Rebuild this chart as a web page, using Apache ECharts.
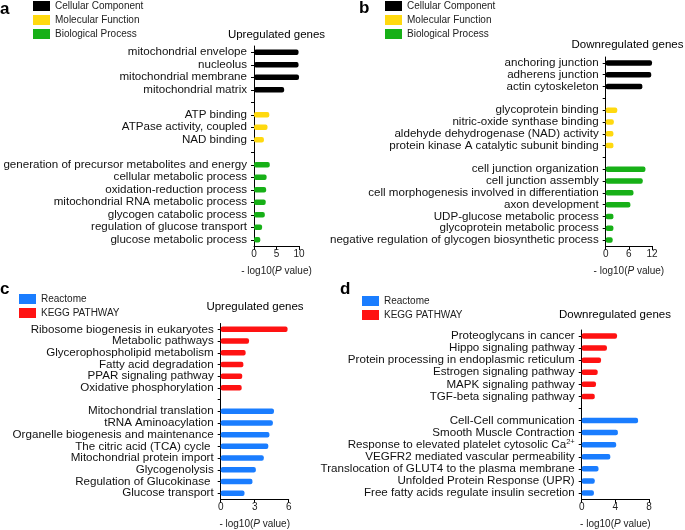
<!DOCTYPE html>
<html><head><meta charset="utf-8">
<script src="https://cdn.jsdelivr.net/npm/echarts@6/dist/echarts.min.js"></script>
<style>html,body{margin:0;padding:0;background:#fff}#c{width:685px;height:530px}</style>
</head><body><div id="c"></div>
<script>
// Panel a (Upregulated GO)
const A_CC = ['mitochondrial envelope','nucleolus','mitochondrial membrane','mitochondrial matrix'];
const A_CC_VAL = [9.9, 9.9, 10.0, 6.7];
const A_MF = ['ATP binding','ATPase activity, coupled','NAD binding'];
const A_MF_VAL = [3.4, 3.0, 2.2];
const A_BP = ['generation of precursor metabolites and energy','cellular metabolic process','oxidation-reduction process','mitochondrial RNA metabolic process','glycogen catabolic process','regulation of glucose transport','glucose metabolic process'];
const A_BP_VAL = [3.5, 2.8, 2.7, 2.6, 2.4, 1.8, 1.4];
const A_TICKS = [0, 5, 10];
// Panel b (Downregulated GO)
const B_CC = ['anchoring junction','adherens junction','actin cytoskeleton'];
const B_CC_VAL = [12.0, 11.8, 9.5];
const B_MF = ['glycoprotein binding','nitric-oxide synthase binding','aldehyde dehydrogenase (NAD) activity','protein kinase A catalytic subunit binding'];
const B_MF_VAL = [3.0, 2.1, 2.0, 2.0];
const B_BP = ['cell junction organization','cell junction assembly','cell morphogenesis involved in differentiation','axon development','UDP-glucose metabolic process','glycoprotein metabolic process','negative regulation of glycogen biosynthetic process'];
const B_BP_VAL = [10.3, 9.6, 7.2, 6.4, 2.0, 2.0, 1.8];
const B_TICKS = [0, 6, 12];
// Panel c (Upregulated pathways)
const C_KEGG = ['Ribosome biogenesis in eukaryotes','Metabolic pathways','Glycerophospholipid metabolism','Fatty acid degradation','PPAR signaling pathway','Oxidative phosphorylation'];
const C_KEGG_VAL = [5.9, 2.5, 2.2, 2.0, 1.9, 1.85];
const C_REACT = ['Mitochondrial translation','tRNA Aminoacylation','Organelle biogenesis and maintenance','The citric acid (TCA) cycle ','Mitochondrial protein import','Glycogenolysis','Regulation of Glucokinase ','Glucose transport'];
const C_REACT_VAL = [4.7, 4.6, 4.3, 4.2, 3.8, 3.1, 2.8, 2.1];
const C_TICKS = [0, 3, 6];
// Panel d (Downregulated pathways)
const D_KEGG = ['Proteoglycans in cancer','Hippo signaling pathway','Protein processing in endoplasmic reticulum','Estrogen signaling pathway','MAPK signaling pathway','TGF-beta signaling pathway'];
const D_KEGG_VAL = [4.2, 3.0, 2.3, 1.9, 1.7, 1.55];
const D_REACT = ['Cell-Cell communication','Smooth Muscle Contraction','Response to elevated platelet cytosolic Ca2+','VEGFR2 mediated vascular permeability','Translocation of GLUT4 to the plasma membrane','Unfolded Protein Response (UPR)','Free fatty acids regulate insulin secretion'];
const D_REACT_VAL = [6.7, 4.3, 4.1, 3.4, 2.0, 1.55, 1.45];
const D_TICKS = [0, 4, 8];

const TITLES = ['Upregulated genes','Downregulated genes','Upregulated genes','Downregulated genes'];
const GO_NAMES = ['Cellular Component','Molecular Function','Biological Process'];
const PW_NAMES = ['Reactome','KEGG PATHWAY'];
const AXIS_NAME = '- log10({i|P} value)';

const COLORS = {'Cellular Component':'#000000','Molecular Function':'#FFD90F','Biological Process':'#17B017','Reactome':'#1A7DFF','KEGG PATHWAY':'#FF1212'};
const FONT = 'Liberation Sans, Arial, sans-serif';

function build(groups){
  const cats = []; const series = {};
  groups.forEach(g=>{ series[g.name] = []; });
  groups.forEach((g,gi)=>{
    if (gi>0){ cats.push(' '.repeat(gi)); groups.forEach(h=>series[h.name].push(null)); }
    g.labels.forEach((l,i)=>{ cats.push(l); groups.forEach(h=>series[h.name].push(h===g? g.values[i] : null)); });
  });
  return {cats, series};
}

const panels = [
  build([{name:'Cellular Component',labels:A_CC,values:A_CC_VAL},{name:'Molecular Function',labels:A_MF,values:A_MF_VAL},{name:'Biological Process',labels:A_BP,values:A_BP_VAL}]),
  build([{name:'Cellular Component',labels:B_CC,values:B_CC_VAL},{name:'Molecular Function',labels:B_MF,values:B_MF_VAL},{name:'Biological Process',labels:B_BP,values:B_BP_VAL}]),
  build([{name:'KEGG PATHWAY',labels:C_KEGG,values:C_KEGG_VAL},{name:'Reactome',labels:C_REACT,values:C_REACT_VAL}]),
  build([{name:'KEGG PATHWAY',labels:D_KEGG,values:D_KEGG_VAL},{name:'Reactome',labels:D_REACT,values:D_REACT_VAL}])
];
const TICKS = [A_TICKS, B_TICKS, C_TICKS, D_TICKS];

const grids = [
  {left:254, top:46, width:45, height:200},
  {left:605.7, top:57, width:46.3, height:189},
  {left:220.7, top:323.5, width:68, height:179},
  {left:581.7, top:330, width:67.3, height:171}
];

const xAxes = grids.map((g,i)=>({
  gridIndex:i, type:'value', min:TICKS[i][0], max:TICKS[i][TICKS[i].length-1], interval:TICKS[i][1]-TICKS[i][0],
  splitLine:{show:false},
  axisLine:{show:true, lineStyle:{color:'#000', width:1}},
  axisTick:{show:true, length:4, lineStyle:{color:'#000'}},
  axisLabel:{fontSize:10, color:'#222', margin:3, fontFamily:FONT},
  name:AXIS_NAME, nameLocation:'middle', nameGap:20,
  nameTextStyle:{fontSize:10, color:'#222', fontFamily:FONT, rich:{i:{fontStyle:'italic', fontSize:10, color:'#222', fontFamily:FONT}}}
}));

const yAxes = panels.map((p,i)=>({
  gridIndex:i, type:'category', inverse:true, data:p.cats,
  axisLine:{show:true, lineStyle:{color:'#000', width:1}},
  axisTick:{show:true, alignWithLabel:true, length:3, lineStyle:{color:'#000'}},
  axisLabel:{fontSize:11.6, color:'#111', margin:7, fontFamily:FONT, interval:0,
    formatter: v => v.endsWith('Ca2+') ? v.slice(0,-2) + '{sup|2+}' : v,
    rich:{sup:{fontSize:7.5, color:'#111', fontFamily:FONT, verticalAlign:'top', padding:[0,0,6,0]}}}
}));

const series = [];
panels.forEach((p,i)=>{
  Object.keys(p.series).forEach(name=>{
    series.push({type:'bar', name, xAxisIndex:i, yAxisIndex:i, data:p.series[name],
      barWidth:5.5, barGap:'-100%', itemStyle:{color:COLORS[name], borderRadius:2}, silent:true, animation:false});
  });
});

const legendBase = {orient:'vertical', icon:'rect', itemWidth:17, itemHeight:10, itemGap:4, padding:0,
  textStyle:{fontSize:10, color:'#222', fontFamily:FONT}, selectedMode:false};
const legends = [
  Object.assign({}, legendBase, {left:33, top:1, data:GO_NAMES}),
  Object.assign({}, legendBase, {left:385, top:1, data:GO_NAMES}),
  Object.assign({}, legendBase, {left:19, top:294, data:PW_NAMES}),
  Object.assign({}, legendBase, {left:362, top:296, data:PW_NAMES})
];

const txt = (text,x,y,size,weight,align) => ({type:'text', x, y, silent:true,
  style:{text, fontSize:size, fontWeight:weight||'normal', fill:'#000', font: (weight||'normal')+' '+size+'px '+FONT, textAlign:align||'center', textVerticalAlign:'middle'}});

const graphics = [
  txt('a', 0, 9, 17, 'bold', 'left'),
  txt('b', 359, 8, 17, 'bold', 'left'),
  txt('c', 0, 289, 17, 'bold', 'left'),
  txt('d', 340, 289, 17, 'bold', 'left'),
  txt(TITLES[0], 276.5, 35, 11.5),
  txt(TITLES[1], 627.5, 45, 11.5),
  txt(TITLES[2], 255, 307, 11.5),
  txt(TITLES[3], 615, 315, 11.5)
];

const chart = echarts.init(document.getElementById('c'), null, {renderer:'canvas'});
chart.setOption({
  animation:false, backgroundColor:'#fff',
  textStyle:{fontFamily:FONT},
  grid:grids, xAxis:xAxes, yAxis:yAxes, series, legend:legends, graphic:graphics
});
</script></body></html>
